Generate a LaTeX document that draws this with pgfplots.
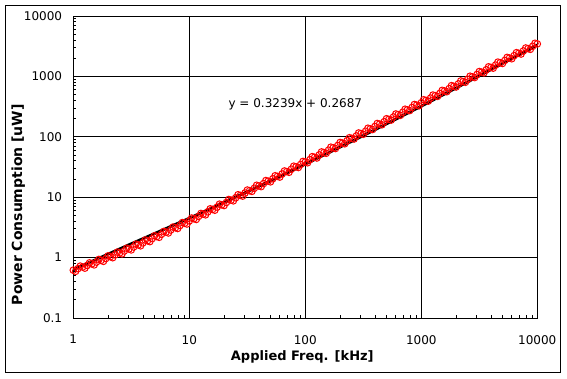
\documentclass[border=0pt]{standalone}
\usepackage{pgfplots}
\pgfplotsset{compat=1.18}
\usepackage{fontspec}
\setmainfont{DejaVu Sans}
\pgfplotstableread{
x y
1.000 0.620
1.096 0.656
1.202 0.697
1.318 0.741
1.445 0.789
1.585 0.842
1.738 0.900
1.905 0.964
2.089 1.034
2.291 1.111
2.512 1.195
2.754 1.287
3.020 1.388
3.311 1.498
3.631 1.620
3.981 1.753
4.365 1.899
4.786 2.059
5.248 2.234
5.754 2.427
6.310 2.638
6.918 2.869
7.586 3.123
8.318 3.401
9.120 3.706
10.00 4.040
10.96 4.405
12.02 4.808
13.18 5.248
14.45 5.731
15.85 6.263
17.38 6.844
19.05 7.479
20.89 8.178
22.91 8.946
25.12 9.786
27.54 10.71
30.20 11.72
33.11 12.82
36.31 14.04
39.81 15.37
43.65 16.83
47.86 18.43
52.48 20.18
57.54 22.11
63.10 24.22
69.18 26.53
75.86 29.07
83.18 31.85
91.20 34.90
100.0 38.24
109.6 41.8
120.2 45.8
131.8 50.1
144.5 54.8
158.5 60.0
173.8 65.7
190.5 71.9
208.9 78.7
229.1 86.1
251.2 94.3
275.4 103.2
302.0 113.0
331.1 123.6
363.1 135.4
398.1 148.2
436.5 162.2
478.6 177.6
524.8 194.4
575.4 212.8
631.0 233.0
691.8 255.0
758.6 279.2
831.8 305.6
912.0 334.5
1000 366.2
1096 400.2
1202 437.9
1318 479.1
1445 524.0
1585 573.5
1738 627.3
1905 686.0
2089 750.5
2291 821.2
2512 898.3
2754 982.5
3020 1074.9
3311 1175.7
3631 1286.2
3981 1406.9
4365 1538.9
4786 1683.3
5248 1841.4
5754 2014.1
6310 2203.5
6918 2410.0
7586 2636.3
8318 2883.7
9120 3154.1
10000 3450
}\measured
\pgfplotstableread{
x y
1.047 0.593
1.148 0.723
1.259 0.669
1.380 0.819
1.514 0.758
1.660 0.932
1.820 0.867
1.995 1.069
2.188 0.997
2.399 1.234
2.630 1.154
2.884 1.431
3.162 1.342
3.467 1.668
3.802 1.568
4.169 1.954
4.571 1.840
5.012 2.296
5.495 2.167
6.026 2.709
6.607 2.560
7.244 3.206
7.943 3.034
8.710 3.802
9.550 3.602
10.47 4.519
11.48 4.285
12.59 5.380
13.80 5.106
15.14 6.417
16.60 6.095
18.20 7.663
19.95 7.281
21.88 9.161
23.99 8.710
26.30 10.97
28.84 10.43
31.62 13.13
34.67 12.49
38.02 15.74
41.69 14.97
45.71 18.86
50.12 17.96
54.95 22.63
60.26 21.55
66.07 27.16
72.44 25.85
79.43 32.59
87.10 31.04
95.50 39.13
104.7 37.2
114.8 46.9
125.9 44.6
138.0 56.2
151.4 53.4
166.0 67.3
182.0 64.0
199.5 80.6
218.8 76.6
239.9 96.5
263.0 91.9
288.4 115.7
316.2 110.0
346.7 138.6
380.2 131.9
416.9 166.1
457.1 158.0
501.2 199.0
549.5 189.3
602.6 238.5
660.7 226.9
724.4 285.8
794.3 271.9
871.0 342.5
955.0 325.9
1047 410.0
1148 389.8
1259 490.6
1380 466.5
1514 587.2
1660 558.4
1820 702.7
1995 668.0
2188 840.9
2399 799.6
2630 1006.2
2884 956.7
3162 1204.1
3467 1144.8
3802 1440.9
4169 1369.8
4571 1723.9
5012 1639.0
5495 2062.7
6026 1961.2
6607 2468.3
7244 2346.6
7943 2953.2
8710 2807.6
9550 3533.2
}\measuredb
\pgfplotstableread{
x y
1.000 0.631
1.778 1.035
3.162 1.698
5.623 2.754
10.00 4.487
17.78 7.413
31.62 12.30
56.23 20.70
100.0 35.24
177.8 60.53
316.2 104.7
562.3 182.8
1000 321.4
1778 571.5
3162 1023
5623 1841
10000 3311
}\fitline
\begin{document}
\begin{tikzpicture}
\useasboundingbox (0pt,0pt) rectangle (567pt,378pt);
\draw[line width=1pt] (5.3pt,5.7pt) rectangle (560.3pt,372.7pt);
\begin{axis}[
  at={(73.3pt,60pt)}, anchor=south west,
  scale only axis, width=464pt, height=302pt,
  xmode=log, ymode=log,
  xmin=1, xmax=10000, ymin=0.1, ymax=10000,
  xtick={1,10,100,1000,10000}, xticklabels={1,10,100,1000,10000},
  ytick={0.1,1,10,100,1000,10000}, yticklabels={0.1,1,10,100,1000,10000},
  minor xtick={2,3,4,5,6,7,8,9,20,30,40,50,60,70,80,90,200,300,400,500,600,700,800,900,2000,3000,4000,5000,6000,7000,8000,9000},
  minor ytick={0.2,0.3,0.4,0.5,0.6,0.7,0.8,0.9,2,3,4,5,6,7,8,9,20,30,40,50,60,70,80,90,200,300,400,500,600,700,800,900,2000,3000,4000,5000,6000,7000,8000,9000},
  grid=major, major grid style={black, line width=0.9pt},
  axis line style={black, line width=0.9pt},
  tick align=inside, xtick pos=bottom, ytick pos=left,
  major tick length=0pt, minor tick length=3pt,
  minor tick style={black, line width=0.8pt},
  /pgf/number format/assume math mode=true,
  tick label style={font=\fontsize{12}{14}\selectfont, inner sep=0pt, black},
  yticklabel style={xshift=-11pt},
  xticklabel style={yshift=-17pt},
  xlabel={Applied Freq. [kHz]},
  ylabel={Power Consumption [uW]},
  xlabel style={at={(rel axis cs:0.4935,-0.129)}, anchor=center, font=\bfseries\fontsize{13}{15}\selectfont},
  ylabel style={at={(rel axis cs:-0.1185,0.375)}, anchor=center, font=\bfseries\fontsize{14}{16}\selectfont},
  clip=false,
]
\addplot[only marks, mark=o, mark size=3.3pt, red, mark options={line width=1pt}] table {\measured};
\addplot[only marks, mark=o, mark size=3.3pt, red, mark options={line width=1pt}] table {\measuredb};
\addplot[black, line width=2.8pt, no marks] table {\fitline};
\node[font=\fontsize{12}{14}\selectfont] at (axis cs:82,344) {y = 0.3239x + 0.2687};
\end{axis}
\end{tikzpicture}
\end{document}
